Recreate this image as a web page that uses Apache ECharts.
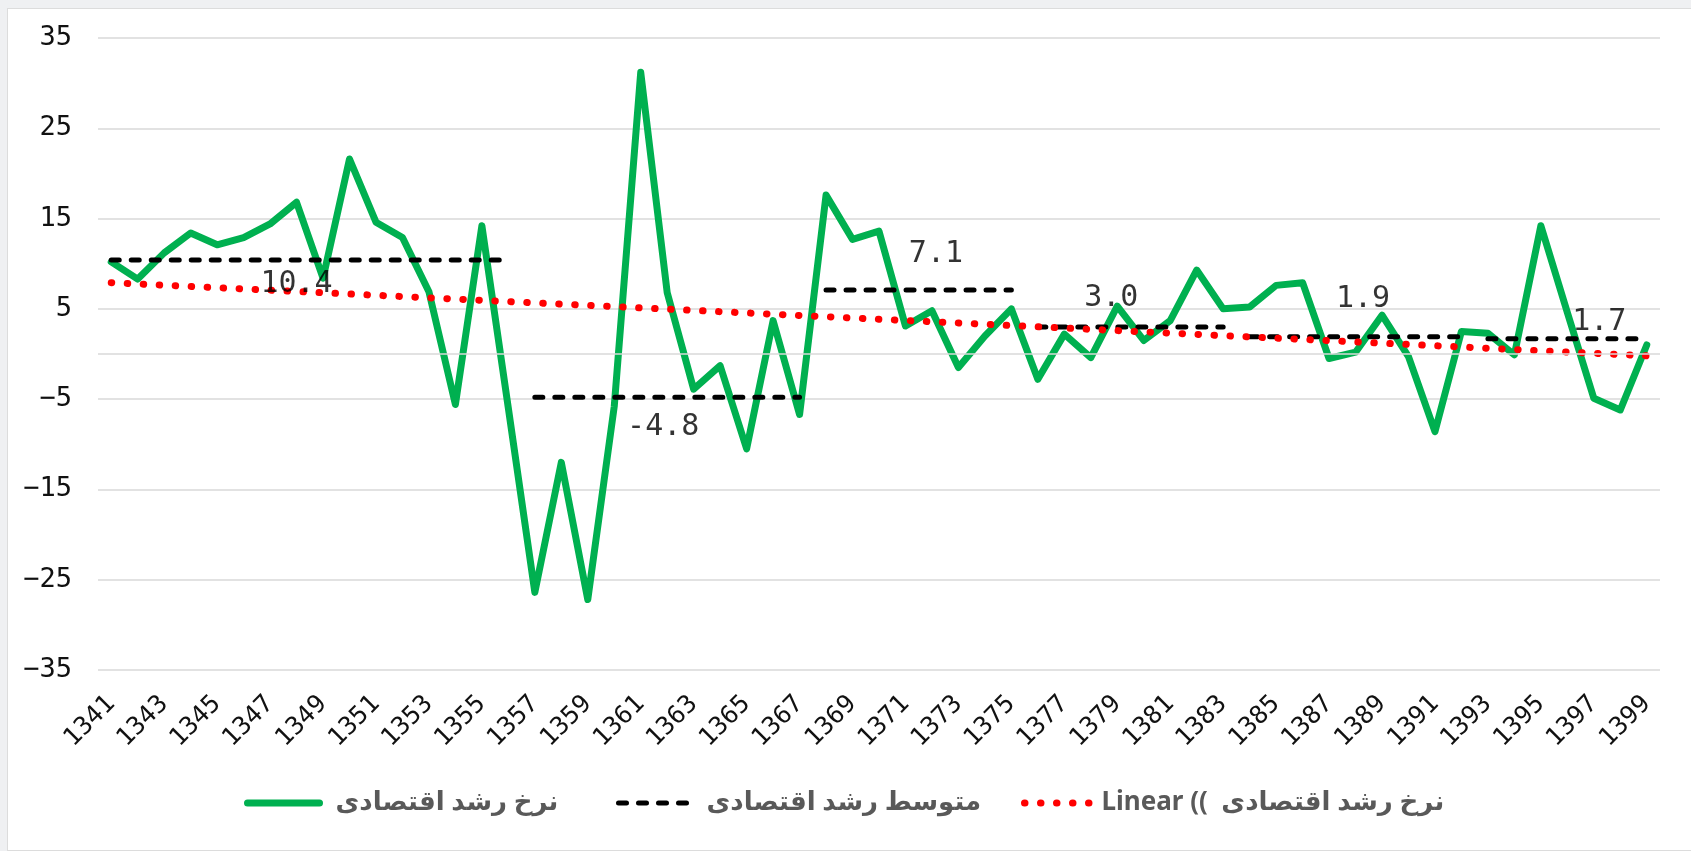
<!DOCTYPE html>
<html>
<head>
<meta charset="utf-8">
<script src="https://cdn.jsdelivr.net/npm/echarts@6/dist/echarts.min.js"></script>
<style>
html,body{margin:0;padding:0;background:#eff0f2;overflow:hidden;}
#chart{position:absolute;left:7px;top:8px;width:1684px;height:841px;background:#fff;border:1px solid #dcdcdc;}
</style>
</head>
<body>
<div id="chart"></div>
<script>
// سال‌ها (محور افقی)
var years = ['1341','1342','1343','1344','1345','1346','1347','1348','1349','1350',
  '1351','1352','1353','1354','1355','1356','1357','1358','1359','1360',
  '1361','1362','1363','1364','1365','1366','1367','1368','1369','1370',
  '1371','1372','1373','1374','1375','1376','1377','1378','1379','1380',
  '1381','1382','1383','1384','1385','1386','1387','1388','1389','1390',
  '1391','1392','1393','1394','1395','1396','1397','1398','1399'];

// نرخ رشد اقتصادی (درصد)
var growth = [10.2, 8.3, 11.2, 13.4, 12.1, 12.9, 14.4, 16.8, 8.4, 21.6,
  14.6, 12.9, 6.9, -5.6, 14.2, -6.0, -26.4, -12.0, -27.2, -5.8,
  31.2, 6.8, -3.9, -1.3, -10.5, 3.7, -6.7, 17.6, 12.7, 13.6,
  3.1, 4.8, -1.5, 2.0, 5.0, -2.8, 2.2, -0.4, 5.3, 1.5,
  3.7, 9.3, 5.0, 5.2, 7.6, 7.9, -0.5, 0.2, 4.3, -0.3,
  -8.6, 2.5, 2.3, -0.1, 14.2, 4.6, -4.9, -6.2, 1.0];

// متوسط رشد هر دوره
var avgValues = [10.4, -4.8, 7.1, 3.0, 1.9, 1.7];
var avgFrom   = ['1341', '1357', '1368', '1376', '1384', '1393'];
var avgTo     = ['1356', '1367', '1375', '1383', '1392', '1399'];

// خط روند (مقدار ابتدا و انتها، از روی تصویر)
var trendStart = 7.9;
var trendEnd = -0.2;

// محور عمودی
var yMin = -35, yMax = 35, yStep = 10;

var nameGrowth = 'نرخ رشد اقتصادی';
var nameAvg = 'متوسط رشد اقتصادی';
var nameTrend = 'Linear ((  نرخ رشد اقتصادی';

// جای برچسب متوسط‌ها (سال + جابجایی پیکسلی)
var avgLabelPos = [
  {year:'1348', off:[0, 24]},
  {year:'1362', off:[-4, 30]},
  {year:'1372', off:[4, -36]},
  {year:'1379', off:[-6, -29]},
  {year:'1389', off:[-19, -38]},
  {year:'1398', off:[-21, -16]}
];

var monoFont = "'DejaVu Sans Mono', monospace";
var legendFont = "'Noto Sans', 'DejaVu Sans', sans-serif";

var series = [];
series.push({
  name: nameGrowth, type: 'line', data: growth, symbol: 'none', z: 2,
  lineStyle: {color: '#00B050', width: 7, cap: 'round', join: 'round'},
  itemStyle: {color: '#00B050'},
  markLine: {silent: true, symbol: 'none', label: {show: false},
    lineStyle: {color: '#d9d9d9', width: 1.5, type: 'solid'}, data: [{yAxis: 0}]}
});

avgValues.forEach(function(v, k){
  var a = years.indexOf(avgFrom[k]), b = years.indexOf(avgTo[k]);
  series.push({
    name: nameAvg, type: 'line', symbol: 'none', z: 3,
    data: years.map(function(y, i){ return (i >= a && i <= b) ? v : null; }),
    lineStyle: {color: '#000', width: 5, type: [8, 12], cap: 'round'},
    itemStyle: {color: '#000'}
  });
});

series.push({
  name: nameTrend, type: 'line', symbol: 'none', z: 4, connectNulls: true,
  data: years.map(function(y, i){ return i === 0 ? trendStart : (i === years.length - 1 ? trendEnd : null); }),
  lineStyle: {color: '#FF0000', width: 7, type: [0.5, 15.5], cap: 'round'},
  itemStyle: {color: '#FF0000'}
});

// برچسب متوسط‌ها
series.push({
  type: 'scatter', z: 5, silent: true, symbolSize: 1,
  itemStyle: {color: 'rgba(0,0,0,0)'},
  data: avgValues.map(function(v, k){
    return {
      value: [avgLabelPos[k].year, v],
      label: {show: true, position: 'inside', offset: avgLabelPos[k].off,
        formatter: v.toFixed(1), fontFamily: monoFont, fontSize: 30, color: '#000'}
    };
  })
});

function legendAt(left, name, gap){
  return {
    left: left, top: 776, itemWidth: 72, itemHeight: 14,
    data: [name],
    lineStyle: {width: 'inherit', type: 'inherit', cap: 'round'},
    itemStyle: {opacity: 0, borderWidth: 0},
    textStyle: {color: '#595959', fontWeight: 'bold', fontSize: 26,
      fontFamily: legendFont, padding: [0, 0, 0, gap]}
  };
}

var chart = echarts.init(document.getElementById('chart'));
chart.setOption({
  animation: false,
  backgroundColor: '#fff',
  grid: {left: 90, right: 32, top: 29, bottom: 180},
  legend: [
    legendAt(231, nameGrowth, 11),
    legendAt(603, nameAvg, 11),
    legendAt(1008, nameTrend, 0)
  ],
  xAxis: {
    type: 'category', data: years, boundaryGap: true,
    axisLine: {show: false}, axisTick: {show: false},
    axisLabel: {interval: 1, rotate: 45, margin: 30, fontSize: 25, color: '#111', fontFamily: monoFont}
  },
  yAxis: {
    type: 'value', min: yMin, max: yMax, interval: yStep,
    axisLine: {show: false}, axisTick: {show: false},
    axisLabel: {margin: 26, fontSize: 27, color: '#111', fontFamily: monoFont,
      formatter: function(v){ return String(v).replace('-', '\u2212'); }},
    splitLine: {lineStyle: {color: '#d9d9d9', width: 1.5}}
  },
  series: series
});
</script>
</body>
</html>
